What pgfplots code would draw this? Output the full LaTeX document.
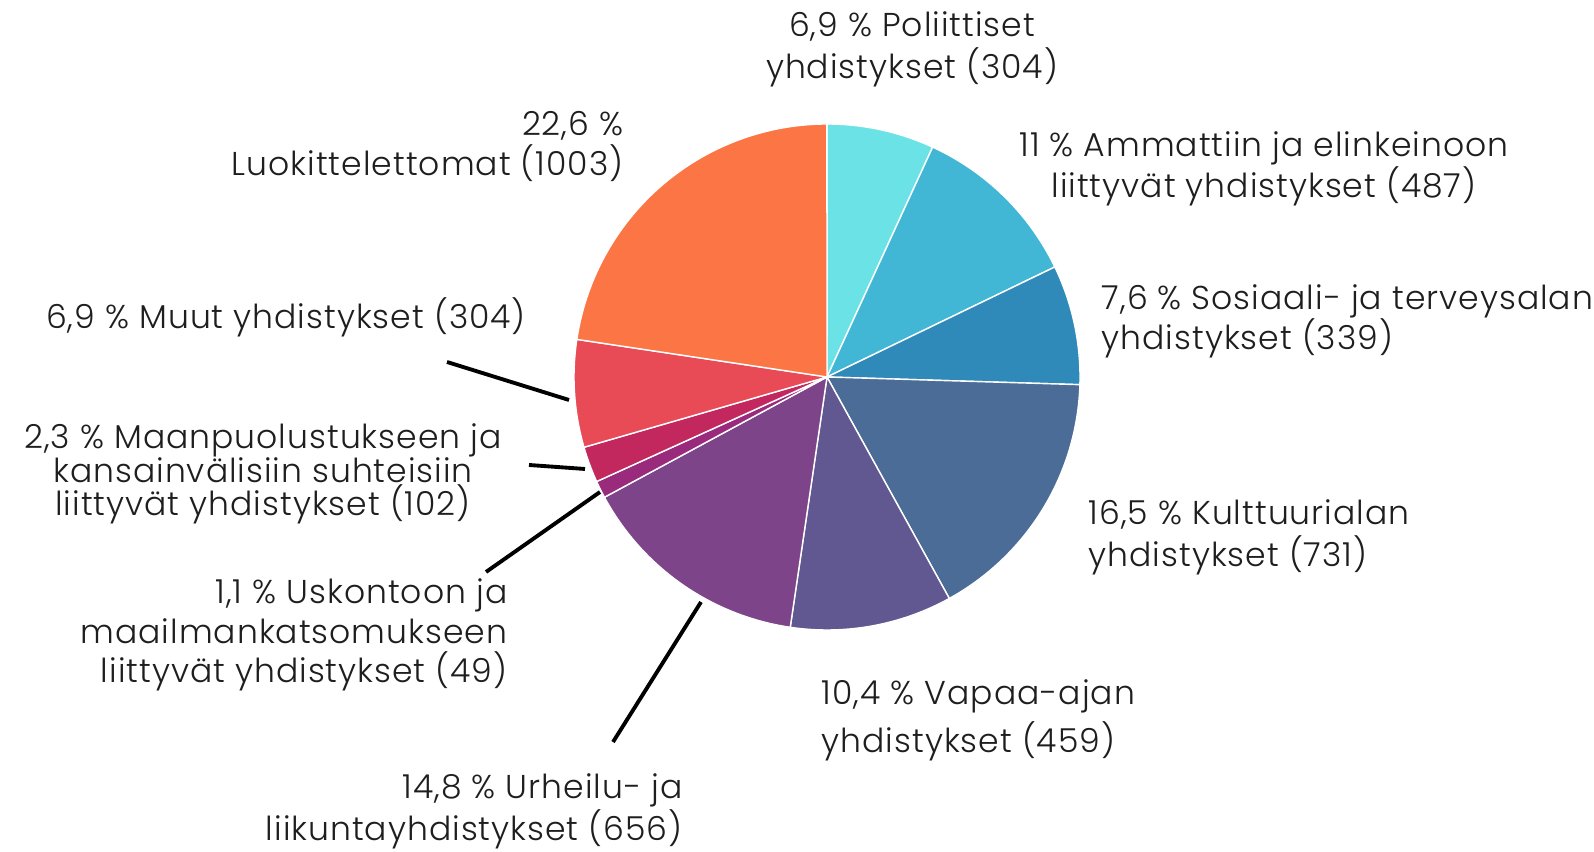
\documentclass[border=0pt]{standalone}
\usepackage{pgfplots}
\pgfplotsset{compat=1.18}
\usepackage{fontspec}
\setmainfont{Poppins Light}[LetterSpace=3]
\definecolor{c1}{HTML}{6BE3E6}
\definecolor{c2}{HTML}{42B6D5}
\definecolor{c3}{HTML}{2F8ABA}
\definecolor{c4}{HTML}{4A6C96}
\definecolor{c5}{HTML}{625891}
\definecolor{c6}{HTML}{7E4489}
\definecolor{c7}{HTML}{9A2A7C}
\definecolor{c8}{HTML}{C2275E}
\definecolor{c9}{HTML}{E84A56}
\definecolor{c10}{HTML}{FB7644}
\definecolor{txt}{HTML}{1E1E1E}
% counts per category (clockwise from top)
\def\counts{304,487,339,731,459,656,49,102,304,1003}
\xdef\total{0}
\foreach \v in \counts {\pgfmathsetmacro\tsum{\total+\v}\xdef\total{\tsum}}
\xdef\cum{90}
\foreach \v [count=\i] in \counts {%
  \pgfmathsetmacro\ee{\cum-360*(\v/\total)}%
  \expandafter\xdef\csname s\i\endcsname{\cum}%
  \expandafter\xdef\csname e\i\endcsname{\ee}%
  \xdef\cum{\ee}}
\def\cx{827}\def\cy{475}\def\rr{253}
\newcommand\sector[2]{%
  \edef\tmp{\noexpand\addplot[fill=#2,draw=white,line width=0.4pt,domain=\csname e#1\endcsname:\csname s#1\endcsname,samples=90,variable=\noexpand\t]
  ({\cx+\rr*cos(\noexpand\t)},{\cy+\rr*sin(\noexpand\t)}) -- (axis cs:\cx,\cy) -- cycle;}%
  \tmp}
\newcommand\lab{\fontsize{9.4}{11}\selectfont\color{txt}}
\begin{document}
\begin{tikzpicture}
\begin{axis}[hide axis, scale only axis, width=15.94cm, height=8.52cm,
  xmin=0, xmax=1594, ymin=0, ymax=852, clip=false]
\path (axis cs:0,0) rectangle (axis cs:1594,852);
\sector{1}{c1}
\sector{2}{c2}
\sector{3}{c3}
\sector{4}{c4}
\sector{5}{c5}
\sector{6}{c6}
\sector{7}{c7}
\sector{8}{c8}
\sector{9}{c9}
\sector{10}{c10}
% leader lines
\addplot[black, line width=1.1pt] coordinates {(447,490) (569,452)};
\addplot[black, line width=1.1pt] coordinates {(529,387) (585,383)};
\addplot[black, line width=1.1pt] coordinates {(486,280) (600,360)};
\addplot[black, line width=1.1pt] coordinates {(613,110) (701,250)};
% labels
\node[anchor=base, inner sep=0, font=\lab] at (axis cs:912,815) {6,9 \% Poliittiset};
\node[anchor=base, inner sep=0, font=\lab] at (axis cs:912,773) {yhdistykset (304)};
\node[anchor=base, inner sep=0, font=\lab] at (axis cs:1264,695) {11 \% Ammattiin ja elinkeinoon};
\node[anchor=base, inner sep=0, font=\lab] at (axis cs:1264,654) {liittyvät yhdistykset (487)};
\node[anchor=base west, inner sep=0, font=\lab] at (axis cs:1101,542) {7,6 \% Sosiaali- ja terveysalan};
\node[anchor=base west, inner sep=0, font=\lab] at (axis cs:1101,502) {yhdistykset (339)};
\node[anchor=base west, inner sep=0, font=\lab] at (axis cs:1088,327) {16,5 \% Kulttuurialan};
\node[anchor=base west, inner sep=0, font=\lab] at (axis cs:1088,285) {yhdistykset (731)};
\node[anchor=base west, inner sep=0, font=\lab] at (axis cs:821,147) {10,4 \% Vapaa-ajan};
\node[anchor=base west, inner sep=0, font=\lab] at (axis cs:821,99) {yhdistykset (459)};
\node[anchor=base east, inner sep=0, font=\lab] at (axis cs:683,53) {14,8 \% Urheilu- ja};
\node[anchor=base east, inner sep=0, font=\lab] at (axis cs:683,11) {liikuntayhdistykset (656)};
\node[anchor=base east, inner sep=0, font=\lab] at (axis cs:508,248) {1,1 \% Uskontoon ja};
\node[anchor=base east, inner sep=0, font=\lab] at (axis cs:508,208) {maailmankatsomukseen};
\node[anchor=base east, inner sep=0, font=\lab] at (axis cs:508,169) {liittyvät yhdistykset (49)};
\node[anchor=base, inner sep=0, font=\lab] at (axis cs:263,403) {2,3 \% Maanpuolustukseen ja};
\node[anchor=base, inner sep=0, font=\lab] at (axis cs:263,369) {kansainvälisiin suhteisiin};
\node[anchor=base, inner sep=0, font=\lab] at (axis cs:263,336) {liittyvät yhdistykset (102)};
\node[anchor=base, inner sep=0, font=\lab] at (axis cs:286,523) {6,9 \% Muut yhdistykset (304)};
\node[anchor=base east, inner sep=0, font=\lab] at (axis cs:624,716) {22,6 \%};
\node[anchor=base east, inner sep=0, font=\lab] at (axis cs:624,676) {Luokittelettomat (1003)};
\end{axis}
\end{tikzpicture}
\end{document}
